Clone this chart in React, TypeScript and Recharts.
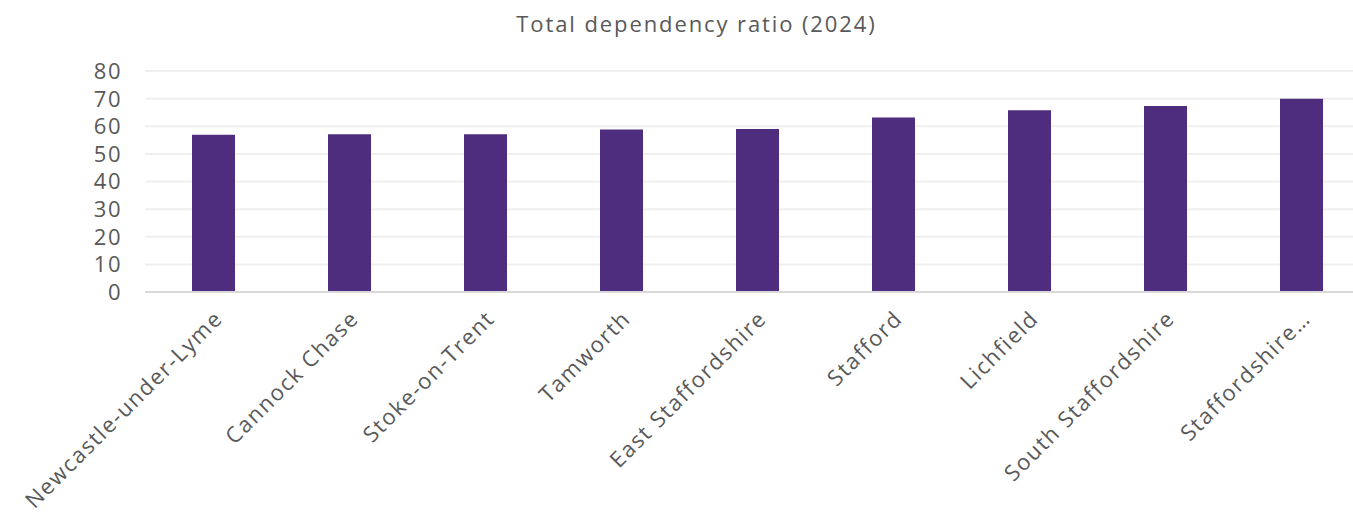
import { BarChart, Bar, XAxis, YAxis, CartesianGrid } from 'recharts';

const areas = [
  'Newcastle-under-Lyme',
  'Cannock Chase',
  'Stoke-on-Trent',
  'Tamworth',
  'East Staffordshire',
  'Stafford',
  'Lichfield',
  'South Staffordshire',
  'Staffordshire…',
];

const ratio2024 = [56.9, 57.1, 57.1, 58.8, 59.0, 63.2, 65.8, 67.3, 70.0];

const yTicks = [0, 10, 20, 30, 40, 50, 60, 70, 80];

const data = areas.map((name, i) => ({ name, value: ratio2024[i] }));

const FONT = '"Open Sans", sans-serif';
const TEXT = '#595959';

function AreaTick({ x, y, payload }: any) {
  return (
    <g transform={`translate(${x + 11},${y + 20})`}>
      <text
        x={0}
        y={0}
        textAnchor="end"
        transform="rotate(-45)"
        fill={TEXT}
        fontSize={22}
        fontFamily={FONT}
        letterSpacing={1.6}
      >
        {payload.value}
      </text>
    </g>
  );
}

function ValueTick({ x, y, payload }: any) {
  return (
    <text
      x={x}
      y={y}
      dy="0.36em"
      textAnchor="end"
      fill={TEXT}
      fontSize={22}
      fontFamily={FONT}
      letterSpacing={1.5}
    >
      {payload.value}
    </text>
  );
}

export default function App() {
  return (
    <div
      style={{
        position: 'absolute',
        left: 0,
        top: 0,
        width: 1353,
        height: 517,
        overflow: 'hidden',
        background: '#fff',
      }}
    >
      <div
        style={{
          position: 'absolute',
          top: 8,
          left: 0,
          width: 1393,
          textAlign: 'center',
          fontFamily: FONT,
          fontSize: 22,
          letterSpacing: 1.9,
          color: TEXT,
          lineHeight: '30px',
        }}
      >
        Total dependency ratio (2024)
      </div>
      <BarChart
        width={1369}
        height={517}
        data={data}
        margin={{ top: 71, right: 0, bottom: 0, left: 0 }}
      >
        <CartesianGrid vertical={false} stroke="#efefef" strokeWidth={2} />
        <XAxis
          dataKey="name"
          interval={0}
          height={225}
          tickLine={false}
          axisLine={{ stroke: '#d9d9d9', strokeWidth: 2 }}
          tick={<AreaTick />}
        />
        <YAxis
          width={145}
          domain={[0, 80]}
          ticks={yTicks}
          interval={0}
          axisLine={false}
          tickLine={false}
          tickSize={0}
          tickMargin={23}
          tick={<ValueTick />}
        />
        <Bar dataKey="value" fill="#4e2d7e" barSize={43} isAnimationActive={false} />
      </BarChart>
    </div>
  );
}
